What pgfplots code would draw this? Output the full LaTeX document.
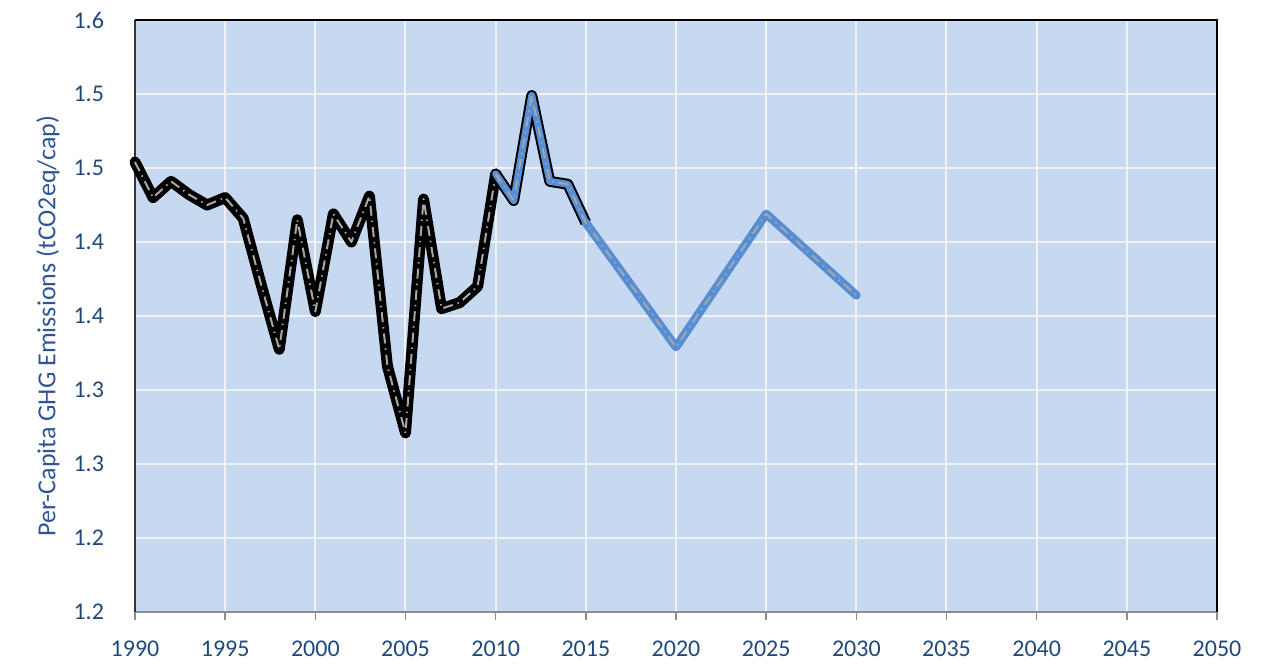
\documentclass[border=0pt]{standalone}
\usepackage{fontspec}
\setmainfont{Carlito}
\usepackage{pgfplots}
\pgfplotsset{compat=1.18}
\definecolor{bgblue}{RGB}{198,217,240}
\definecolor{labblue}{RGB}{31,73,125}
\definecolor{ylabblue}{RGB}{47,85,151}
\definecolor{projblue}{RGB}{85,142,213}
\definecolor{dashgray}{RGB}{166,166,166}
\begin{document}
\begin{tikzpicture}
\path[use as bounding box] (-67.5pt,-28pt) rectangle (567.5pt,306pt);
\begin{axis}[
  scale only axis, width=541pt, height=296pt,
  xmin=1990, xmax=2050, ymin=1.20, ymax=1.60,
  axis background/.style={fill=bgblue},
  axis x line*=bottom, axis y line*=left,
  x axis line style={draw=gray!90, line width=0.8pt},
  y axis line style={draw=black!80, line width=0.8pt},
  xtick={1990,1995,...,2050},
  xticklabels={1990,1995,2000,2005,2010,2015,2020,2025,2030,2035,2040,2045,2050},
  ytick={1.20,1.25,1.30,1.35,1.40,1.45,1.50,1.55,1.60},
  yticklabels={1.2,1.2,1.3,1.3,1.4,1.4,1.5,1.5,1.6},
  tick align=outside,
  xtick style={draw=gray!90, line width=0.8pt},
  major tick length=4pt,
  ytick style={draw=none},
  grid=major,
  major grid style={draw=white!95!black, line width=1pt},
  ticklabel style={font=\fontsize{12}{14}\selectfont, text=labblue},
  xticklabel style={yshift=-7pt},
  yticklabel style={xshift=-8pt},
  ylabel={Per-Capita GHG Emissions (tCO2eq/cap)},
  every axis y label/.style={at={(axis description cs:-0.0804,0.483)}, rotate=90, anchor=center, font=\fontsize{13}{15}\selectfont, text=ylabblue},
  clip=false,
]
% frame top/right
\draw[black, line width=0.8pt] (axis cs:1990,1.60) -- (axis cs:2050,1.60) -- (axis cs:2050,1.20);
% historical
\addplot[black, line width=5.5pt, line join=round, line cap=round] coordinates {
(1990,1.504)(1991,1.480)(1992,1.491)(1993,1.482)(1994,1.475)(1995,1.480)
(1996,1.466)(1997,1.421)(1998,1.3775)(1999,1.465)(2000,1.403)(2001,1.469)
(2002,1.450)(2003,1.481)(2004,1.366)(2005,1.321)(2006,1.479)(2007,1.405)
(2008,1.409)(2009,1.420)(2010,1.496)};
\addplot[dashgray, line width=1pt, line join=round, dash pattern=on 5pt off 2.5pt on 0.7pt off 2.5pt] coordinates {
(1990,1.504)(1991,1.480)(1992,1.491)(1993,1.482)(1994,1.475)(1995,1.480)
(1996,1.466)(1997,1.421)(1998,1.3775)(1999,1.465)(2000,1.403)(2001,1.469)
(2002,1.450)(2003,1.481)(2004,1.366)(2005,1.321)(2006,1.479)(2007,1.405)
(2008,1.409)(2009,1.420)(2010,1.496)};
% 2010-2015 segment
\addplot[black, line width=5.5pt, line join=round] coordinates {
(2010,1.496)(2011,1.478)(2012,1.549)(2013,1.491)(2014,1.489)(2015,1.463)};
\addplot[projblue, line width=3.5pt, line join=round, line cap=round] coordinates {
(2010,1.496)(2011,1.478)(2012,1.549)(2013,1.491)(2014,1.489)(2015,1.463)};
% projection
\addplot[projblue, line width=4.3pt, line join=round, line cap=round] coordinates {
(2015,1.463)(2020,1.379)(2025,1.469)(2030,1.414)};
\addplot[dashgray, line width=1pt, line join=round, dash pattern=on 5pt off 2.5pt on 0.7pt off 2.5pt] coordinates {
(2010,1.496)(2011,1.478)(2012,1.549)(2013,1.491)(2014,1.489)(2015,1.463)(2020,1.379)(2025,1.469)(2030,1.414)};
\end{axis}
\end{tikzpicture}
\end{document}
